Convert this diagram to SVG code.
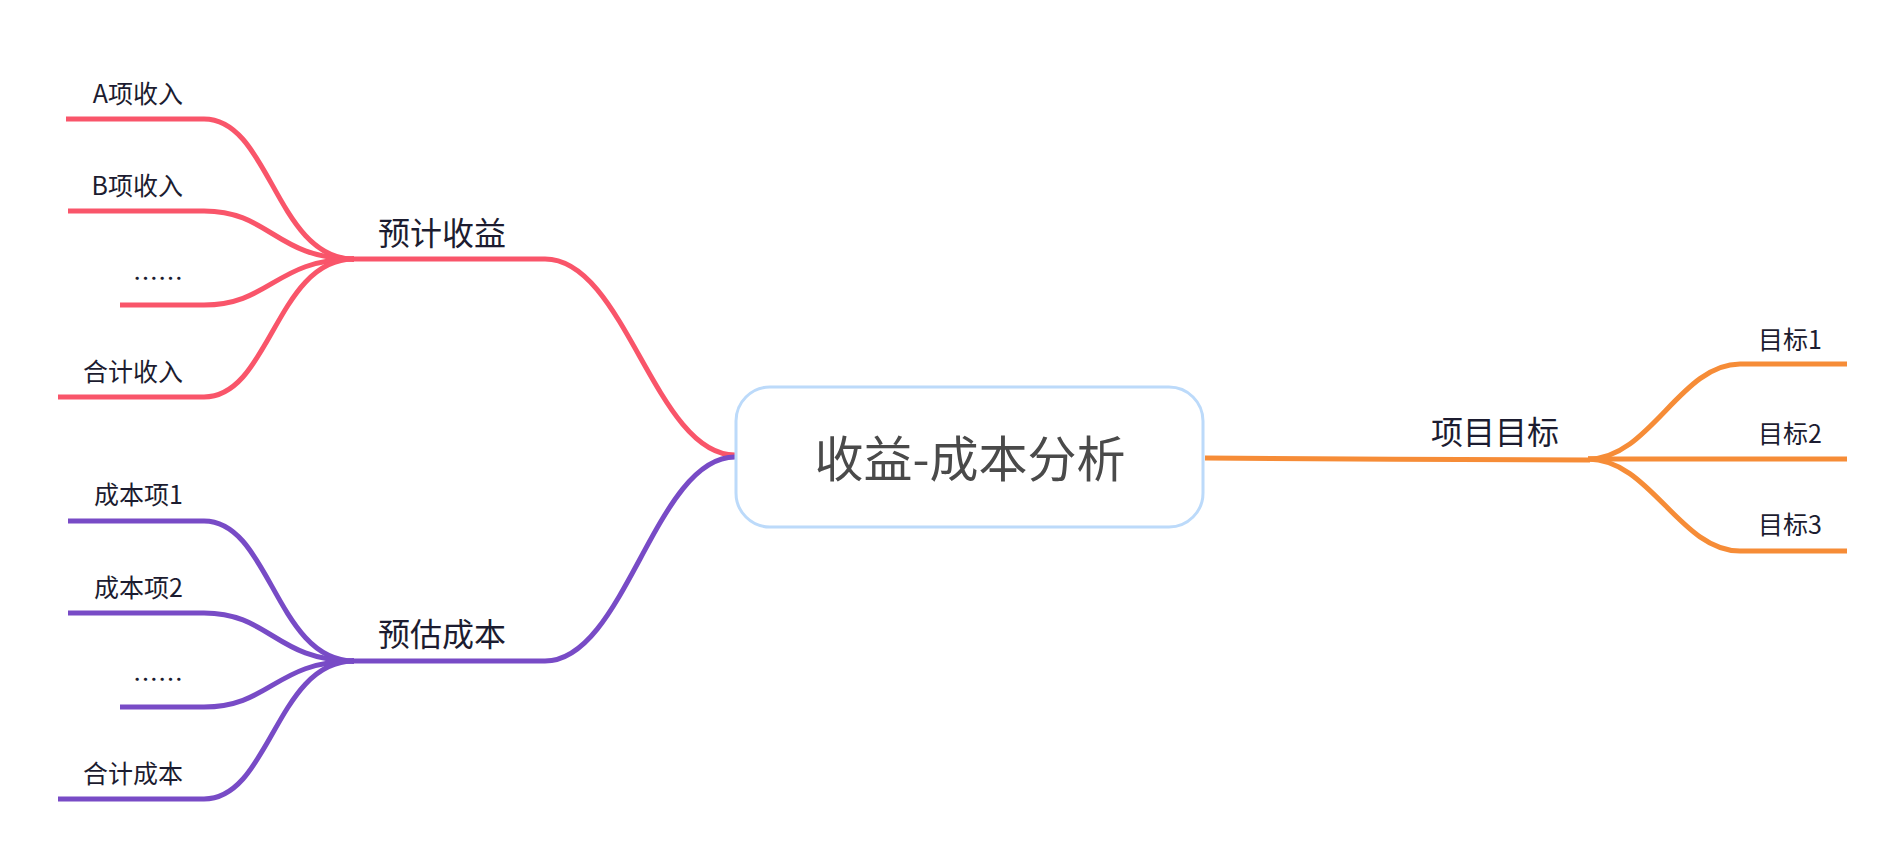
<svg xmlns="http://www.w3.org/2000/svg" width="1904" height="864" viewBox="0 0 1904 864">
<style>
.t{font-family:"Noto Sans CJK SC","Noto Sans",sans-serif;fill:#1c1c30}
.c{font-size:25px}
.m{font-size:32px}
.r{fill:none;stroke:#f9556a;stroke-width:5}
.p{fill:none;stroke:#784bc6;stroke-width:5}
.o{fill:none;stroke:#f68c37;stroke-width:5}
</style>
<rect width="1904" height="864" fill="#ffffff"/>
<g id="connectors">
<path class="r" d="M352,259 H545 C625,259 655,455 735,455"/>
<path class="p" d="M352,661 H545 C625,661 655,457 735,457"/>
<path class="o" d="M1205,458 C1300,459 1500,460 1590,460"/>
<path class="r" d="M66,119 H204 C270,119 276,259 354,259"/>
<path class="r" d="M68,211 H204 C270,211 276,259 354,259"/>
<path class="r" d="M120,305 H204 C270,305 276,259 354,259"/>
<path class="r" d="M58,397 H204 C270,397 276,259 354,259"/>
<path class="p" d="M68,521 H204 C270,521 276,661 354,661"/>
<path class="p" d="M68,613 H204 C270,613 276,661 354,661"/>
<path class="p" d="M120,707 H204 C270,707 276,661 354,661"/>
<path class="p" d="M58,799 H204 C270,799 276,661 354,661"/>
<path class="o" d="M1588,459 C1650,459 1680,364 1740,364 H1847"/>
<path class="o" d="M1588,459 H1847"/>
<path class="o" d="M1588,459 C1650,459 1680,551 1740,551 H1847"/>
</g>
<g id="center">
<rect x="736" y="387" width="467" height="140" rx="34" ry="34" fill="#ffffff" stroke="#bcdafa" stroke-width="3"/>
<text x="970" y="477" text-anchor="middle" style="font-family:'Noto Sans CJK SC','Noto Sans',sans-serif;font-size:49px;fill:#4a4a4a">收益-成本分析</text>
</g>
<g id="topic-income"><text class="t m" x="378" y="245">预计收益</text></g>
<g id="topic-cost"><text class="t m" x="378" y="646">预估成本</text></g>
<g id="topic-goal"><text class="t m" x="1431" y="444">项目目标</text></g>
<g id="income-a"><text class="t c" x="183" y="103" text-anchor="end">A项收入</text></g>
<g id="income-b"><text class="t c" x="183" y="195" text-anchor="end">B项收入</text></g>
<g id="income-more"><text class="t c" x="183" y="288" text-anchor="end">……</text></g>
<g id="income-total"><text class="t c" x="183" y="381" text-anchor="end">合计收入</text></g>
<g id="cost-1"><text class="t c" x="183" y="504" text-anchor="end">成本项1</text></g>
<g id="cost-2"><text class="t c" x="183" y="597" text-anchor="end">成本项2</text></g>
<g id="cost-more"><text class="t c" x="183" y="689" text-anchor="end">……</text></g>
<g id="cost-total"><text class="t c" x="183" y="783" text-anchor="end">合计成本</text></g>
<g id="goal-1"><text class="t c" x="1758" y="349">目标1</text></g>
<g id="goal-2"><text class="t c" x="1758" y="443">目标2</text></g>
<g id="goal-3"><text class="t c" x="1758" y="534">目标3</text></g>
</svg>
